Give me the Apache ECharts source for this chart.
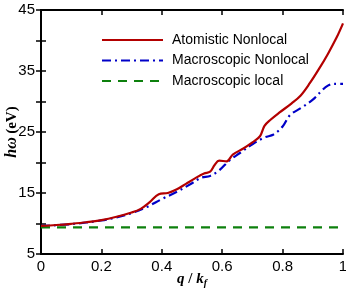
<!DOCTYPE html>
<html>
<head>
<meta charset="utf-8">
<script src="https://cdn.jsdelivr.net/npm/echarts@6/dist/echarts.min.js"></script>
<style>html,body{margin:0;padding:0;background:#fff;}#c{width:346px;height:295px;}</style>
</head>
<body>
<div id="c"></div>
<script>
const atomQ = [0,0.05,0.1,0.15,0.2,0.25,0.3,0.33,0.36,0.39,0.42,0.45,0.48,0.51,0.54,0.56,0.575,0.59,0.615,0.635,0.67,0.7,0.725,0.74,0.76,0.79,0.83,0.86,0.89,0.92,0.95,0.98,1.0];
const atomV = [9.6,9.75,9.95,10.2,10.55,11.1,11.8,12.4,13.5,14.8,15.0,15.6,16.5,17.4,18.2,18.5,19.6,20.3,20.2,21.3,22.3,23.3,24.3,26.0,27.0,28.2,29.7,31.0,33.0,35.3,37.8,40.6,42.8];
const macroQ = [0,0.1,0.2,0.25,0.3,0.35,0.4,0.45,0.5,0.53,0.56,0.59,0.625,0.66,0.7,0.74,0.77,0.8,0.825,0.86,0.9,0.93,0.95,0.97,1.0];
const macroV = [9.6,9.9,10.5,11.0,11.7,12.7,14.0,15.2,16.6,17.5,17.8,18.7,20.4,21.6,23.0,24.1,24.6,25.9,27.8,28.9,30.3,31.8,32.6,32.9,32.9];
const localQ = [0,1];
const localV = [9.35,9.35];
const seriesNames = ['Atomistic Nonlocal','Macroscopic Nonlocal','Macroscopic local'];

const zip = (a,b) => a.map((x,i)=>[x,b[i]]);
const chart = echarts.init(document.getElementById('c'), null, {renderer:'canvas'});
const axisLine = {show:true, lineStyle:{color:'#000', width:2}};
chart.setOption({
  animation:false,
  grid:{left:41, right:3, top:10, bottom:41, containLabel:false, outerBoundsMode:'none'},
  legend:{
    orient:'vertical', left:101, top:33, padding:0, itemWidth:61, itemHeight:14, itemGap:6.5,
    itemStyle:{opacity:0, borderWidth:0},
    textStyle:{fontFamily:'Liberation Sans', fontSize:14, color:'#000', padding:[0,0,0,4]},
    data:seriesNames
  },
  xAxis:[{
    type:'value', min:0, max:1, interval:0.2, position:'bottom',
    axisLine:axisLine, axisTick:{show:true, inside:true, length:5, lineStyle:{color:'#000',width:1.5}},
    axisLabel:{fontFamily:'Liberation Sans', fontSize:15, color:'#000', margin:5,
      formatter:v=>(Math.round(v*10)/10).toString()},
    splitLine:{show:false},
    name:'{b|q} / {b|k}{s|f}', nameLocation:'middle', nameGap:16, nameMoveOverlap:false,
    nameTextStyle:{rich:{
      b:{fontFamily:'Liberation Serif', fontStyle:'italic', fontWeight:'bold', fontSize:15, color:'#000'},
      s:{fontFamily:'Liberation Serif', fontStyle:'italic', fontWeight:'bold', fontSize:10, color:'#000', verticalAlign:'bottom', padding:[8,0,0,0]}
    }, fontFamily:'Liberation Serif', fontWeight:'bold', fontSize:15, color:'#000'}
  },{
    type:'value', min:0, max:1, interval:0.2, position:'top',
    axisLine:axisLine, axisTick:{show:true, inside:true, length:5, lineStyle:{color:'#000',width:1.5}},
    axisLabel:{show:false}, splitLine:{show:false}
  }],
  yAxis:[{
    type:'value', min:5, max:45, interval:5, position:'left',
    axisLine:axisLine, axisTick:{show:true, inside:true, length:5, lineStyle:{color:'#000',width:1.5}},
    axisLabel:{fontFamily:'Liberation Sans', fontSize:15, color:'#000', margin:6, interval:1,
      formatter:v=>((v-5)%10===0? String(v):'')},
    splitLine:{show:false},
    name:'{i|hω} {n|(eV)}', nameLocation:'middle', nameGap:21, nameRotate:90, nameMoveOverlap:false,
    nameTextStyle:{rich:{
      i:{fontFamily:'Liberation Serif', fontStyle:'italic', fontWeight:'bold', fontSize:16, color:'#000'},
      n:{fontFamily:'Liberation Serif', fontWeight:'bold', fontSize:15, color:'#000'}
    }}
  },{
    type:'value', min:5, max:45, interval:5, position:'right',
    axisLine:axisLine, axisTick:{show:true, inside:true, length:5, lineStyle:{color:'#000',width:1.5}},
    axisLabel:{show:false}, splitLine:{show:false}
  }],
  series:[{
    name:seriesNames[0], type:'line', data:zip(atomQ,atomV), smooth:0.35, showSymbol:false, symbol:'none', z:3,
    lineStyle:{color:'#b30000', width:2.2}, itemStyle:{color:'#b30000'}
  },{
    name:seriesNames[1], type:'line', data:zip(macroQ,macroV), smooth:0.35, showSymbol:false, symbol:'none', z:2,
    lineStyle:{color:'#0000c8', width:2.2, type:[9,4,2,4]}, itemStyle:{color:'#0000c8'}
  },{
    name:seriesNames[2], type:'line', data:zip(localQ,localV), showSymbol:false, symbol:'none', z:2,
    lineStyle:{color:'#0d800d', width:2.2, type:[9,7]}, itemStyle:{color:'#0d800d'}
  }]
});
</script>
</body>
</html>
